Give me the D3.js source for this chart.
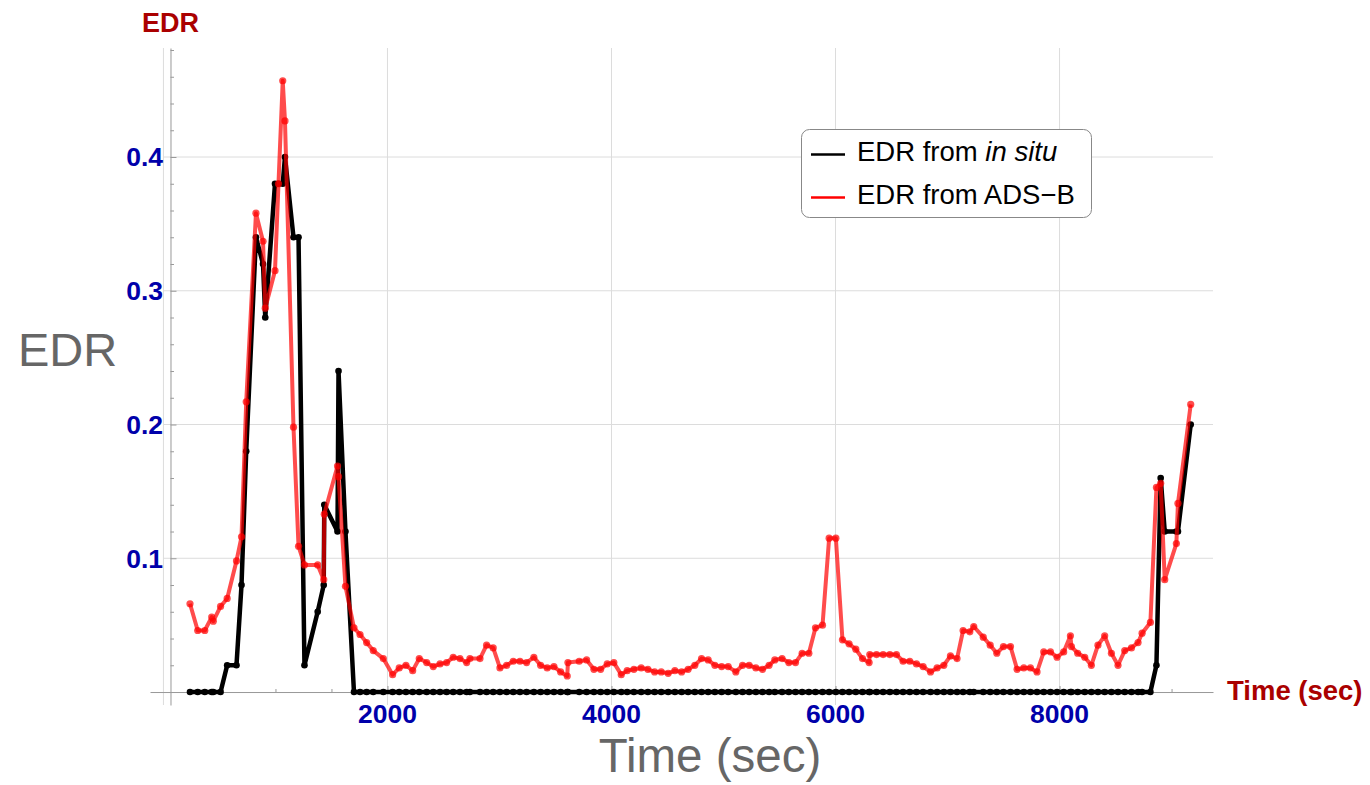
<!DOCTYPE html>
<html>
<head>
<meta charset="utf-8">
<script src="https://cdn.jsdelivr.net/npm/d3@7"></script>
<style>
  body { margin: 0; background: #fff; }
  svg { font-family: "Liberation Sans", Arial, sans-serif; }
</style>
</head>
<body>
<div id="chart"></div>
<script>
// time stamps (sec) shared by both series
var times = [
  237, 306, 369, 431, 445, 510, 569, 652, 697, 739,
  826, 889, 909, 996, 1027, 1065, 1085, 1161, 1206, 1259,
  1377, 1431, 1436, 1554, 1563, 1625, 1701, 1755, 1814, 1873,
  1963, 2046, 2105, 2165, 2225, 2284, 2350, 2409, 2469, 2528,
  2587, 2647, 2707, 2736, 2826, 2885, 2944, 3004, 3064, 3123,
  3183, 3242, 3307, 3367, 3426, 3486, 3546, 3605, 3611, 3712,
  3778, 3843, 3903, 3962, 4021, 4087, 4140, 4200, 4265, 4325,
  4385, 4444, 4506, 4566, 4626, 4684, 4744, 4804, 4863, 4923,
  4983, 5042, 5110, 5170, 5229, 5289, 5348, 5407, 5458, 5523,
  5583, 5643, 5702, 5762, 5821, 5884, 5943, 6003, 6062, 6121,
  6181, 6241, 6300, 6306, 6366, 6425, 6485, 6544, 6603, 6663, 6723,
  6782, 6848, 6907, 6967, 7026, 7085, 7139, 7199, 7234, 7319,
  7381, 7440, 7499, 7562, 7621, 7681, 7740, 7799, 7859, 7919,
  7978, 8037, 8097, 8106, 8162, 8225, 8284, 8343, 8403, 8463,
  8522, 8582, 8642, 8701, 8737, 8811, 8865, 8903, 8939, 9043,
  9057, 9171
];

// EDR from in situ (black)
var edrInSitu = [
  0, 0, 0, 0, 0, 0, 0.02, 0.02, 0.08, 0.18,
  0.34, 0.32, 0.28, 0.38, 0.38, 0.38, 0.40, 0.34, 0.34, 0.02,
  0.06, 0.08, 0.14, 0.12, 0.24, 0.12, 0, 0, 0, 0,
  0, 0, 0, 0, 0, 0, 0, 0, 0, 0,
  0, 0, 0, 0, 0, 0, 0, 0, 0, 0,
  0, 0, 0, 0, 0, 0, 0, 0, 0, 0,
  0, 0, 0, 0, 0, 0, 0, 0, 0, 0,
  0, 0, 0, 0, 0, 0, 0, 0, 0, 0,
  0, 0, 0, 0, 0, 0, 0, 0, 0, 0,
  0, 0, 0, 0, 0, 0, 0, 0, 0, 0,
  0, 0, 0, 0, 0, 0, 0, 0, 0, 0, 0,
  0, 0, 0, 0, 0, 0, 0, 0, 0, 0,
  0, 0, 0, 0, 0, 0, 0, 0, 0, 0,
  0, 0, 0, 0, 0, 0, 0, 0, 0, 0,
  0, 0, 0, 0, 0, 0, 0.02, 0.16, 0.12, 0.12,
  0.12, 0.20
];

// EDR from ADS-B (red)
var edrAdsb = [
  0.066, 0.046, 0.046, 0.056, 0.053, 0.064, 0.070, 0.098, 0.116, 0.217,
  0.358, 0.337, 0.287, 0.315, 0.380, 0.457, 0.427, 0.198, 0.109, 0.095,
  0.095, 0.084, 0.133, 0.169, 0.161, 0.079, 0.048, 0.043, 0.037, 0.031,
  0.025, 0.013, 0.018, 0.020, 0.016, 0.025, 0.022, 0.019, 0.021, 0.022,
  0.026, 0.025, 0.022, 0.025, 0.025, 0.035, 0.033, 0.018, 0.020, 0.023,
  0.023, 0.022, 0.026, 0.020, 0.018, 0.019, 0.015, 0.012, 0.022, 0.023,
  0.024, 0.017, 0.017, 0.021, 0.022, 0.013, 0.016, 0.017, 0.018, 0.017,
  0.015, 0.015, 0.014, 0.016, 0.015, 0.017, 0.020, 0.025, 0.024, 0.020,
  0.019, 0.019, 0.015, 0.020, 0.020, 0.018, 0.017, 0.020, 0.024, 0.025,
  0.022, 0.022, 0.029, 0.029, 0.048, 0.050, 0.115, 0.115, 0.039, 0.036,
  0.032, 0.025, 0.022, 0.028, 0.028, 0.028, 0.028, 0.028, 0.023, 0.023, 0.021,
  0.019, 0.015, 0.018, 0.020, 0.027, 0.025, 0.046, 0.045, 0.049, 0.041,
  0.035, 0.029, 0.034, 0.034, 0.017, 0.018, 0.018, 0.015, 0.030, 0.030,
  0.026, 0.030, 0.042, 0.034, 0.029, 0.026, 0.020, 0.035, 0.042, 0.029,
  0.020, 0.031, 0.033, 0.037, 0.044, 0.052, 0.153, 0.156, 0.084, 0.111,
  0.141, 0.215
];

var xTicks = [2000, 4000, 6000, 8000];
var yTicks = [0.1, 0.2, 0.3, 0.4];
var seriesNames = ["EDR from ", "EDR from ADS\u2212B"];

var W = 1370, H = 785;
var svg = d3.select("#chart").append("svg")
  .attr("width", W)
  .attr("height", H);

// scales (plot range)
var x = d3.scaleLinear().domain([-120, 9370]).range([150, 1213]);
var y = d3.scaleLinear().domain([-0.0097, 0.4815]).range([705, 48]);
var yAxisAt = 63;

// grid lines
var grid = svg.append("g").attr("class", "grid");
grid.selectAll(".vgrid")
  .data([0].concat(xTicks))
  .enter().append("line")
  .attr("x1", function (d) { return x(d); })
  .attr("x2", function (d) { return x(d); })
  .attr("y1", y.range()[1])
  .attr("y2", y.range()[0])
  .style("stroke", "#dcdcdc")
  .style("stroke-width", 1);
grid.selectAll(".hgrid")
  .data(yTicks)
  .enter().append("line")
  .attr("x1", x(0))
  .attr("x2", x.range()[1])
  .attr("y1", function (d) { return y(d); })
  .attr("y2", function (d) { return y(d); })
  .style("stroke", "#dcdcdc")
  .style("stroke-width", 1);

// x axis, ticks pointing up
var xMinor = d3.range(500, 9001, 500).filter(function (d) { return xTicks.indexOf(d) < 0; });
var xAxisG = svg.append("g").attr("transform", "translate(0," + y(0) + ")");
xAxisG.call(d3.axisTop(x).tickValues(xMinor).tickSize(3).tickSizeOuter(0).tickFormat(""));
xAxisG.append("g").call(d3.axisTop(x).tickValues(xTicks).tickSize(6).tickSizeOuter(0).tickFormat(""))
  .select(".domain").remove();

// y axis, ticks pointing right
var yMinor = d3.range(0.02, 0.481, 0.02).filter(function (d) {
  return Math.abs(d * 10 - Math.round(d * 10)) > 1e-6;
});
var yAxisG = svg.append("g").attr("transform", "translate(" + x(yAxisAt) + ",0)");
yAxisG.call(d3.axisRight(y).tickValues(yMinor).tickSize(3.5).tickSizeOuter(0).tickFormat(""));
yAxisG.append("g").call(d3.axisRight(y).tickValues(yTicks).tickSize(6).tickSizeOuter(0).tickFormat(""))
  .select(".domain").remove();

svg.selectAll(".domain, .tick line")
  .style("stroke", "#999")
  .style("stroke-width", 1);

// tick labels
svg.selectAll(".xlab")
  .data(xTicks)
  .enter().append("text")
  .attr("x", function (d) { return x(d); })
  .attr("y", 723)
  .attr("text-anchor", "middle")
  .style("font-size", "26.5px")
  .style("font-weight", "bold")
  .style("fill", "#0000aa")
  .text(function (d) { return d; });
svg.selectAll(".ylab")
  .data(yTicks)
  .enter().append("text")
  .attr("x", 163)
  .attr("y", function (d) { return y(d); })
  .attr("dy", "0.35em")
  .attr("text-anchor", "end")
  .style("font-size", "26.5px")
  .style("font-weight", "bold")
  .style("fill", "#0000aa")
  .text(function (d) { return d3.format(".1f")(d); });

// axis names at the ends of the axes
svg.append("text")
  .attr("x", x(yAxisAt))
  .attr("y", 32)
  .attr("text-anchor", "middle")
  .style("font-size", "27px")
  .style("font-weight", "bold")
  .style("fill", "#aa0000")
  .text("EDR");
svg.append("text")
  .attr("x", 1227)
  .attr("y", 700)
  .style("font-size", "27.5px")
  .style("font-weight", "bold")
  .style("fill", "#aa0000")
  .text("Time (sec)");

// frame labels
svg.append("text")
  .attr("x", 18)
  .attr("y", 366)
  .style("font-size", "47px")
  .style("fill", "#666")
  .text("EDR");
svg.append("text")
  .attr("x", 710)
  .attr("y", 772)
  .attr("text-anchor", "middle")
  .style("font-size", "47.5px")
  .style("fill", "#666")
  .text("Time (sec)");

// series
var line = d3.line()
  .x(function (d) { return x(d[0]); })
  .y(function (d) { return y(d[1]); });

function drawSeries(values, color, opacity, width, r) {
  var pts = times.map(function (t, i) { return [t, values[i]]; });
  var g = svg.append("g");
  g.append("path")
    .attr("d", line(pts))
    .style("fill", "none")
    .style("stroke", color)
    .style("stroke-opacity", opacity)
    .style("stroke-width", width)
    .style("stroke-linejoin", "round");
  g.selectAll("circle")
    .data(pts)
    .enter().append("circle")
    .attr("cx", function (d) { return x(d[0]); })
    .attr("cy", function (d) { return y(d[1]); })
    .attr("r", r)
    .style("fill", color)
    .style("fill-opacity", opacity);
}
drawSeries(edrInSitu, "#000", 1, 4.5, 3.3);
drawSeries(edrAdsb, "#ff0000", 0.7, 4, 3.6);

// legend
var lg = svg.append("g");
lg.append("rect")
  .attr("x", 801.5)
  .attr("y", 129.5)
  .attr("width", 290)
  .attr("height", 88)
  .attr("rx", 8)
  .style("fill", "#fff")
  .style("stroke", "#888")
  .style("stroke-width", 1);
var legendColors = ["#000", "#ff0000"];
var legendRows = lg.selectAll(".row")
  .data(seriesNames)
  .enter().append("g")
  .attr("transform", function (d, i) { return "translate(0," + (154.5 + i * 43) + ")"; });
legendRows.append("line")
  .attr("x1", 811)
  .attr("x2", 845)
  .style("stroke", function (d, i) { return legendColors[i]; })
  .style("stroke-width", 2.5);
var legendText = legendRows.append("text")
  .attr("x", 857)
  .attr("y", 6.5)
  .style("font-size", "27.5px")
  .style("fill", "#000")
  .text(function (d) { return d; });
legendText.filter(function (d, i) { return i === 0; })
  .append("tspan")
  .style("font-style", "italic")
  .text("in situ");
</script>
</body>
</html>
